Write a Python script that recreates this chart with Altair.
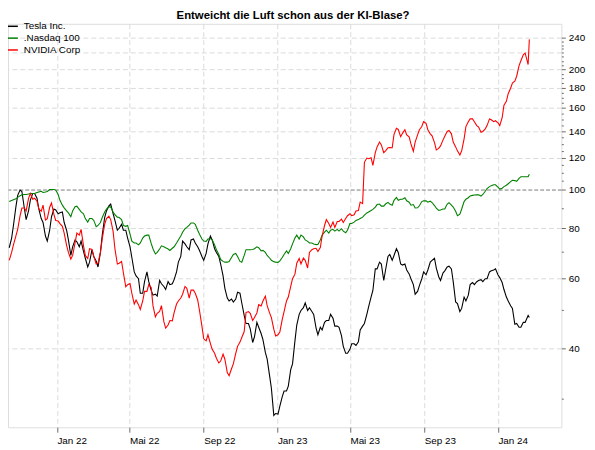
import altair as alt
import pandas as pd

# Thursday closes (weekly) and Monday closes, plus one extra day (2024-02-20)
thu_dates = list(pd.date_range("2021-10-14", "2024-02-22", freq="7D").strftime("%Y-%m-%d"))
mon_dates = list(pd.date_range("2021-10-18", periods=122, freq="7D").strftime("%Y-%m-%d")) + ["2024-02-20"]

tesla_thu = [71.5, 81.3, 96.7, 98.9, 84.1, 94.1, 97.8, 89.4, 82.7, 74.3,
             85.5, 88.9, 87.5, 82.7, 74.8, 71.9, 74.0, 74.3, 67.3, 65.8,
             68.0, 64.0, 76.9, 88.4, 92.0, 83.7, 80.0, 79.1, 75.6, 67.6,
             60.8, 55.0, 58.8, 58.8, 54.4, 54.1, 58.1, 56.2, 57.8, 59.5,
             65.8, 74.3, 71.9, 74.8, 73.5, 70.4, 66.5, 73.1, 74.8, 69.6,
             65.1, 56.6, 52.6, 52.3, 55.3, 52.0, 46.2, 44.8, 42.8, 45.2,
             42.1, 37.6, 31.8, 27.5, 28.7, 31.3, 32.2, 36.6, 45.8, 49.8,
             52.0, 50.6, 48.7, 43.3, 44.5, 47.0, 48.7, 45.5, 45.2, 40.5,
             38.9, 41.1, 40.7, 44.5, 46.2, 50.9, 55.9, 63.3, 65.1, 62.9,
             68.8, 68.4, 69.6, 64.7, 62.9, 59.8, 54.7, 57.5, 62.2, 62.9,
             66.5, 63.6, 59.2, 62.6, 64.3, 58.8, 51.8, 50.4, 52.6, 57.8,
             57.8, 59.2, 58.8, 59.8, 62.6, 63.3, 60.2, 56.2, 52.6, 50.4,
             46.2, 45.2, 46.5, 47.8]
tesla_mon = [75.6, 90.4, 99.7, 89.9, 88.4, 97.8, 95.1, 84.6, 76.5, 79.1,
             89.4, 87.0, 87.9, 79.1, 68.4, 74.8, 71.9, 70.0, 64.0, 70.7,
             66.2, 69.6, 85.1, 91.0, 87.0, 79.1, 81.8, 79.1, 71.9, 62.2,
             59.8, 55.0, 62.2, 55.9, 54.7, 59.2, 57.2, 58.8, 58.1, 62.2,
             68.0, 73.1, 70.7, 75.2, 71.9, 68.0, 69.2, 76.5, 71.1, 68.0,
             60.8, 53.5, 53.2, 53.2, 55.0, 48.4, 46.2, 41.4, 46.5, 43.6,
             39.1, 34.2, 27.2, 27.4, 30.3, 31.3, 35.4, 41.8, 48.7, 50.6,
             49.8, 49.5, 45.0, 45.2, 46.5, 47.0, 47.6, 45.5, 43.1, 38.9,
             39.8, 41.1, 41.6, 45.5, 48.7, 53.8, 63.3, 65.8, 59.2, 68.0,
             66.5, 71.1, 65.1, 65.1, 61.5, 57.8, 55.6, 59.8, 61.2, 65.8,
             67.3, 60.5, 61.8, 64.0, 63.3, 52.3, 49.5, 53.8, 54.4, 58.5,
             58.8, 59.5, 59.8, 62.2, 62.9, 61.2, 58.5, 53.8, 51.2, 46.0,
             45.2, 46.5, 48.4]

nasdaq_thu = [93.3, 94.3, 95.6, 97.0, 97.2, 97.8, 97.8, 98.6, 98.3, 98.9,
              100.0, 99.7, 94.0, 90.0, 87.4, 88.4, 90.9, 87.9, 84.6, 84.6,
              83.7, 81.3, 85.1, 89.4, 90.4, 86.5, 85.1, 81.3, 81.3, 74.3,
              73.5, 73.5, 76.5, 76.9, 71.1, 69.6, 72.3, 71.5, 70.4, 71.9,
              74.8, 78.2, 80.4, 82.5, 81.8, 77.3, 74.3, 75.2, 74.8, 70.7,
              66.8, 65.8, 66.0, 68.8, 68.0, 65.8, 70.7, 70.7, 71.1, 71.5,
              70.4, 68.4, 66.5, 65.8, 66.3, 68.8, 69.2, 73.1, 76.9, 76.9,
              74.8, 73.5, 73.1, 72.9, 76.9, 79.1, 79.1, 78.7, 78.7, 78.7,
              79.1, 82.2, 83.7, 84.6, 86.3, 87.9, 89.2, 91.7, 90.9, 92.0,
              92.0, 94.0, 94.0, 94.6, 93.7, 91.4, 89.9, 91.1, 93.7, 93.0,
              92.8, 89.9, 88.9, 89.4, 92.7, 90.4, 86.0, 89.4, 94.6, 96.4,
              96.9, 97.0, 97.2, 100.6, 102.3, 102.8, 100.3, 101.7, 103.4, 105.5,
              104.9, 107.7, 107.7, 109.2]
nasdaq_mon = [93.9, 94.8, 96.5, 97.2, 97.5, 97.8, 98.3, 99.0, 98.6, 100.0,
              100.0, 97.2, 91.4, 88.4, 85.5, 90.6, 89.2, 87.0, 82.9, 84.6,
              80.7, 82.7, 87.9, 90.6, 87.9, 85.3, 84.1, 80.9, 77.3, 73.5,
              72.7, 75.6, 76.9, 73.3, 69.0, 71.0, 71.9, 71.0, 71.3, 73.5,
              76.5, 79.8, 81.5, 82.5, 79.1, 75.2, 74.2, 75.4, 72.7, 68.8,
              66.1, 65.8, 67.6, 69.2, 66.1, 68.4, 70.7, 70.8, 71.9, 70.2,
              69.6, 67.4, 66.0, 65.7, 67.6, 70.2, 71.1, 75.6, 75.2, 76.1,
              74.2, 73.5, 72.8, 74.8, 78.2, 77.8, 79.5, 79.5, 79.8, 78.0,
              82.2, 82.9, 84.1, 85.3, 87.4, 88.6, 90.4, 92.0, 90.9, 92.9,
              91.4, 95.6, 94.6, 95.4, 93.0, 91.7, 90.0, 93.3, 93.7, 93.5,
              91.2, 88.7, 89.4, 92.0, 91.4, 88.2, 86.8, 93.3, 95.4, 96.7,
              97.0, 96.3, 99.0, 101.7, 102.8, 101.4, 100.8, 102.5, 104.7, 105.3,
              106.6, 107.7, 107.7]

nvidia_thu = [66.5, 72.7, 79.5, 89.9, 88.4, 97.8, 95.1, 89.4, 91.4, 84.6,
              92.5, 83.7, 82.2, 77.8, 69.6, 68.4, 77.8, 79.5, 68.4, 71.1,
              68.0, 65.4, 75.2, 84.6, 84.1, 71.1, 65.4, 61.9, 57.8, 55.0,
              52.9, 50.1, 55.6, 57.8, 51.2, 49.0, 51.2, 45.0, 47.0, 49.2,
              52.6, 54.7, 56.6, 56.0, 55.0, 49.8, 42.3, 43.3, 39.8, 37.8,
              37.2, 37.6, 34.2, 36.6, 40.5, 42.6, 49.2, 49.0, 47.8, 51.5,
              52.6, 51.2, 47.8, 43.0, 44.0, 49.5, 53.8, 59.8, 65.4, 65.1,
              66.5, 69.6, 71.1, 70.0, 76.5, 84.1, 80.4, 80.4, 83.2, 82.7,
              86.0, 86.0, 88.4, 93.0, 117.0, 119.5, 115.0, 127.9, 129.4, 125.0,
              127.4, 137.5, 141.4, 138.3, 137.1, 130.1, 131.5, 141.2, 147.9, 141.2,
              136.3, 125.7, 128.6, 136.0, 140.6, 131.5, 125.0, 125.0, 143.8, 150.3,
              147.9, 143.4, 139.8, 144.6, 149.5, 148.7, 144.6, 162.6, 173.8, 184.9,
              192.2, 210.2, 219.8, 237.7]
nvidia_mon = [69.6, 76.5, 86.0, 89.9, 95.1, 94.6, 93.5, 88.2, 83.9, 90.3,
              86.7, 83.4, 80.9, 72.5, 67.0, 73.5, 76.9, 72.3, 67.2, 70.8,
              65.1, 69.6, 81.8, 85.8, 78.6, 65.1, 66.1, 57.1, 58.2, 51.7,
              51.5, 52.6, 55.6, 56.9, 48.0, 49.5, 46.7, 45.8, 46.9, 51.7,
              53.5, 57.2, 53.5, 56.0, 52.9, 45.5, 41.8, 41.2, 38.9, 36.8,
              38.7, 34.8, 35.6, 38.9, 41.5, 44.1, 49.5, 47.0, 49.1, 51.1,
              54.1, 49.1, 44.7, 43.3, 47.3, 52.6, 57.2, 61.4, 67.2, 67.4,
              63.6, 70.7, 71.3, 71.6, 81.3, 82.2, 82.9, 83.2, 84.3, 84.6,
              87.0, 86.5, 88.6, 92.2, 119.9, 120.2, 123.7, 131.5, 123.7, 127.3,
              127.3, 142.3, 135.6, 141.2, 135.6, 124.7, 137.1, 143.8, 146.5, 137.9,
              131.1, 126.8, 133.0, 139.8, 137.9, 127.9, 122.0, 134.0, 147.9, 150.3,
              144.6, 139.1, 141.9, 150.3, 147.9, 147.0, 151.3, 166.3, 179.3, 186.9,
              204.4, 217.4, 205.6]

series_names = ["Tesla Inc.", ".Nasdaq 100", "NVIDIA Corp"]
series_colors = ["#000000", "#008000", "#ff0000"]

y_labeled = [40, 60, 80, 100, 120, 140, 160, 180, 200, 240]
y_grid = [40, 60, 80, 100, 120, 140, 160, 180, 200, 220, 240]
y_minor = [30, 50, 70, 90, 105, 110, 115, 125, 130, 135, 145, 150, 155, 165,
           170, 175, 185, 190, 195, 205, 210, 215, 225, 230, 235]

x_ticks = [(2022, 1), (2022, 5), (2022, 9), (2023, 1), (2023, 5), (2023, 9), (2024, 1)]

title_text = "Entweicht die Luft schon aus der KI-Blase?"

rows = []
series_data = [(tesla_thu, tesla_mon), (nasdaq_thu, nasdaq_mon), (nvidia_thu, nvidia_mon)]
for order, (name, (thu, mon)) in enumerate(zip(series_names, series_data)):
    for d, v in list(zip(thu_dates, thu)) + list(zip(mon_dates, mon)):
        rows.append({"Datum": d, "Wert": v, "Serie": name, "o": order})
df = pd.DataFrame(rows).sort_values(["o", "Datum"]).drop(columns="o").reset_index(drop=True)

FONT = "Liberation Sans"
lab_arr = "[" + ",".join(str(v) for v in y_labeled) + "]"
grid_arr = "[" + ",".join(str(v) for v in y_grid) + "]"

x_axis = alt.Axis(
    values=[alt.DateTime(year=y, month=m, date=1, utc=True) for y, m in x_ticks],
    labelExpr="['Jan','Feb','Mär','Apr','Mai','Jun','Jul','Aug','Sep','Okt','Nov','Dez'][utcmonth(datum.value)] + ' ' + utcFormat(datum.value, '%y')",
    labelAlign="left",
    labelFont=FONT,
    labelFontSize=10,
    labelColor="#000000",
    labelPadding=3,
    labelFlush=False,
    labelOverlap=False,
    tickSize=5,
    tickColor="#6b6b6b",
    domain=False,
    grid=True,
    gridColor="#dadada",
    gridDash=[5, 3],
    title=None,
)

y_axis = alt.Axis(
    orient="right",
    values=sorted(y_grid + y_minor),
    labelExpr=f"indexof({lab_arr}, datum.value) >= 0 ? format(datum.value, 'd') : ''",
    labelFont=FONT,
    labelFontSize=10,
    labelColor="#000000",
    labelPadding=3,
    labelOverlap=False,
    labelFlush=False,
    tickColor="#6b6b6b",
    tickSize={"condition": {"test": f"indexof({lab_arr}, datum.value) >= 0", "value": 4}, "value": 2},
    domain=False,
    grid=True,
    gridOpacity={"condition": {"test": f"indexof({grid_arr}, datum.value) >= 0", "value": 1}, "value": 0},
    gridColor={"condition": {"test": "datum.value == 100", "value": "#7a7a7a"}, "value": "#dadada"},
    gridDash={"condition": {"test": "datum.value == 100", "value": [4, 2]}, "value": [5, 3]},
    title=None,
)

chart = alt.Chart(df).mark_line(strokeWidth=1.1).encode(
    x=alt.X(
        "Datum:T",
        scale=alt.Scale(
            type="utc",
            domain=[alt.DateTime(year=2021, month=10, date=12, utc=True),
                    alt.DateTime(year=2024, month=4, date=15, utc=True)],
        ),
        axis=x_axis,
    ),
    y=alt.Y(
        "Wert:Q",
        scale=alt.Scale(type="log", domain=[25.4, 260], nice=False, zero=False),
        axis=y_axis,
    ),
    color=alt.Color(
        "Serie:N",
        scale=alt.Scale(domain=series_names, range=series_colors),
        legend=alt.Legend(
            title=None,
            orient="none",
            legendX=-2,
            legendY=-4,
            padding=0,
            symbolType="stroke",
            symbolSize=121,
            symbolStrokeWidth=1.5,
            labelFont=FONT,
            labelFontSize=10,
            labelColor="#000000",
            labelOffset=5,
            rowPadding=-2,
        ),
    ),
    detail="Serie:N",
).properties(
    width=561,
    height=409,
    title=alt.TitleParams(
        title_text,
        font=FONT,
        fontSize=11.5,
        fontWeight="bold",
        color="#000000",
        anchor="middle",
        baseline="alphabetic",
        offset=2,
        dx=8.5,
        dy=13,
    ),
    autosize=alt.AutoSizeParams(type="none"),
    padding={"left": 0, "top": 13, "right": 26, "bottom": 20},
).configure_view(
    stroke="#6b6b6b",
    strokeWidth=1.2,
).configure(background="#ffffff")

chart.save("out.html", embed_options={"renderer": "svg", "actions": False})
